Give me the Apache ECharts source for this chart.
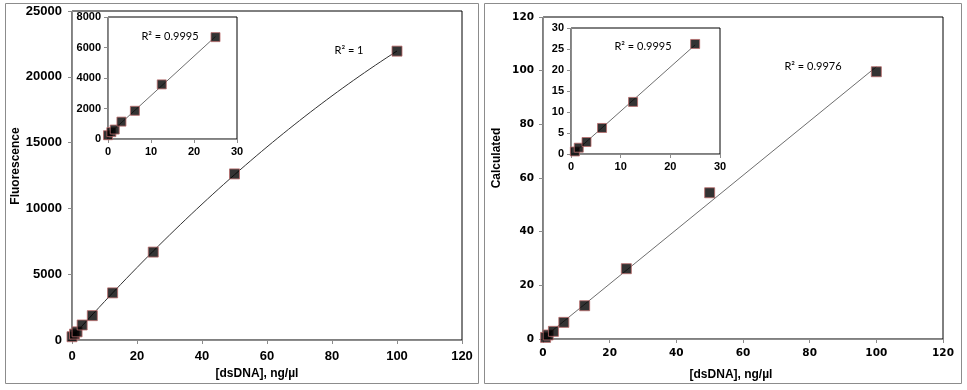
<!DOCTYPE html>
<html>
<head>
<meta charset="utf-8">
<script src="https://cdn.jsdelivr.net/npm/echarts@6/dist/echarts.min.js"></script>
<style>
html,body{margin:0;padding:0;background:#fff;}
#chart{width:967px;height:390px;}
</style>
</head>
<body>
<div id="chart"></div>
<script>
// ---- Data ----
const concentrations = [0, 0.78, 1.56, 3.125, 6.25, 12.5, 25, 50, 100];        // ng/µl (left panel)
const fluorescence   = [250, 450, 620, 1140, 1850, 3580, 6680, 12620, 21950];
const calcConc       = [0.78, 1.56, 3.125, 6.25, 12.5, 25, 50, 100];           // ng/µl (right panel)
const calculated     = [0.6, 1.5, 2.85, 6.2, 12.4, 26.2, 54.5, 99.6];
const insetMaxX = 25;
const r2Labels = { leftMain: 'R² = 1', leftInset: 'R² = 0.9995', rightMain: 'R² = 0.9976', rightInset: 'R² = 0.9995' };
const xTitle = '[dsDNA], ng/µl';
const yTitleLeft = 'Fluorescence';
const yTitleRight = 'Calculated';

// ---- Trendline fits (least squares on the data above) ----
function linFit(xs, ys) {
  const n = xs.length; let sx=0, sy=0, sxx=0, sxy=0;
  for (let i=0;i<n;i++){ sx+=xs[i]; sy+=ys[i]; sxx+=xs[i]*xs[i]; sxy+=xs[i]*ys[i]; }
  const b = (n*sxy - sx*sy)/(n*sxx - sx*sx); const a = (sy - b*sx)/n;
  return x => a + b*x;
}
function quadFit(xs, ys) {
  const S = [0,0,0,0,0], T=[0,0,0];
  for (let i=0;i<xs.length;i++){ let p=1; for(let k=0;k<5;k++){ S[k]+=p; if(k<3) T[k]+=p*ys[i]; p*=xs[i]; } }
  const M = [[S[0],S[1],S[2],T[0]],[S[1],S[2],S[3],T[1]],[S[2],S[3],S[4],T[2]]];
  for (let c=0;c<3;c++){ for(let r=c+1;r<3;r++){ const f=M[r][c]/M[c][c]; for(let k=c;k<4;k++) M[r][k]-=f*M[c][k]; } }
  const co=[0,0,0];
  for (let r=2;r>=0;r--){ let s=M[r][3]; for(let k=r+1;k<3;k++) s-=M[r][k]*co[k]; co[r]=s/M[r][r]; }
  return x => co[0] + co[1]*x + co[2]*x*x;
}
function pairs(xs, ys, maxX) { const out=[]; xs.forEach((x,i)=>{ if(maxX===undefined || x<=maxX) out.push([x, ys[i]]); }); return out; }
function lineSamples(f, x0, x1, n) { const out=[]; for(let i=0;i<=n;i++){ const x=x0+(x1-x0)*i/n; out.push([x, f(x)]); } return out; }

const leftAll = pairs(concentrations, fluorescence);
const leftIn = pairs(concentrations, fluorescence, insetMaxX);
const rightAll = pairs(calcConc, calculated);
const rightIn = pairs(calcConc, calculated, insetMaxX);

const fLeftMain = quadFit(concentrations, fluorescence);
const fLeftIn = linFit(leftIn.map(p=>p[0]), leftIn.map(p=>p[1]));
const fRightMain = linFit(calcConc, calculated);
const fRightIn = linFit(rightIn.map(p=>p[0]), rightIn.map(p=>p[1]));

const xmin = a => Math.min(...a.map(p=>p[0])), xmax = a => Math.max(...a.map(p=>p[0]));

// ---- Styles ----
const gray = '#8c8c8c';
function axis(gridIndex, min, max, interval, font, z) {
  return {
    type: 'value', gridIndex, min, max, interval, z,
    axisLine: { show: true, lineStyle: { color: gray, width: 1 } },
    axisTick: { show: true, length: 4, lineStyle: { color: gray } },
    splitLine: { show: false },
    axisLabel: { color: '#000', fontFamily: font.family, fontWeight: 'bold', fontSize: font.size, margin: font.margin,
                 formatter: v => String(v) }
  };
}
const markerStyle = { color: '#000', borderColor: '#b86a6a', borderWidth: 1 };
function scatter(xi, yi, data, size, z) {
  return { type: 'scatter', xAxisIndex: xi, yAxisIndex: yi, data, symbol: 'rect', symbolSize: size, itemStyle: markerStyle, z, silent: true };
}
function trend(xi, yi, data, color, z) {
  return { type: 'line', xAxisIndex: xi, yAxisIndex: yi, data, showSymbol: false, symbol: 'none', lineStyle: { color, width: 1 }, z, silent: true };
}

const ARIAL = '"Liberation Sans", Arial, sans-serif';
const arialL = { family: ARIAL, size: 13, margin: 10 };
const arialI = { family: ARIAL, size: 11, margin: 7 };
const verdR  = { family: '"DejaVu Sans", Verdana, sans-serif', size: 10.5, margin: 9 };
const arialRI = { family: ARIAL, size: 11, margin: 7 };

const chart = echarts.init(document.getElementById('chart'), null, { renderer: 'canvas' });
const option = {
  backgroundColor: '#fff',
  animation: false,
  grid: [
    { left: 72, top: 11, width: 390, height: 329, show: true, borderColor: '#000', borderWidth: 1, backgroundColor: '#fff', z: 0 },
    { left: 108, top: 17, width: 129, height: 122, show: true, borderColor: '#000', borderWidth: 1, backgroundColor: '#fff', z: 5 },
    { left: 543, top: 17, width: 400, height: 322, show: true, borderColor: '#000', borderWidth: 1, backgroundColor: '#fff', z: 0 },
    { left: 571, top: 28, width: 149, height: 126, show: true, borderColor: '#000', borderWidth: 1, backgroundColor: '#fff', z: 5 }
  ],
  xAxis: [
    axis(0, 0, 120, 20, arialL, 1),
    axis(1, 0, 30, 10, arialI, 6),
    axis(2, 0, 120, 20, verdR, 1),
    axis(3, 0, 30, 10, arialRI, 6)
  ],
  yAxis: [
    axis(0, 0, 25000, 5000, arialL, 1),
    axis(1, 0, 8000, 2000, arialI, 6),
    axis(2, 0, 120, 20, verdR, 1),
    axis(3, 0, 30, 5, arialRI, 6)
  ],
  series: [
    trend(0, 0, lineSamples(fLeftMain, xmin(leftAll), xmax(leftAll), 60), '#333', 2),
    scatter(0, 0, leftAll, 10, 3),
    trend(1, 1, lineSamples(fLeftIn, xmin(leftIn), xmax(leftIn), 1), '#6e6e6e', 7),
    scatter(1, 1, leftIn, 9, 8),
    trend(2, 2, lineSamples(fRightMain, xmin(rightAll), xmax(rightAll), 1), '#6e6e6e', 2),
    scatter(2, 2, rightAll, 10, 3),
    trend(3, 3, lineSamples(fRightIn, xmin(rightIn), xmax(rightIn), 1), '#6e6e6e', 7),
    scatter(3, 3, rightIn, 9, 8)
  ],
  graphic: [
    { type: 'rect', shape: { x: 5.5, y: 3.5, width: 473, height: 380 }, style: { fill: 'none', stroke: gray, lineWidth: 1 }, z: -1, silent: true },
    { type: 'rect', shape: { x: 484.5, y: 3.5, width: 477, height: 380 }, style: { fill: 'none', stroke: gray, lineWidth: 1 }, z: -1, silent: true },
    { type: 'text', x: 16, y: 166, rotation: Math.PI/2, style: { text: yTitleLeft, font: 'bold 12px "Liberation Sans", Arial, sans-serif', fill: '#000', textAlign: 'center', textVerticalAlign: 'middle' }, z: 20 },
    { type: 'text', x: 497, y: 158, rotation: Math.PI/2, style: { text: yTitleRight, font: 'bold 12px "Liberation Sans", Arial, sans-serif', fill: '#000', textAlign: 'center', textVerticalAlign: 'middle' }, z: 20 },
    { type: 'text', x: 257, y: 374, style: { text: xTitle, font: 'bold 12px "Liberation Sans", Arial, sans-serif', fill: '#000', textAlign: 'center', textVerticalAlign: 'middle' }, z: 20 },
    { type: 'text', x: 731, y: 375, style: { text: xTitle, font: 'bold 12px "Liberation Sans", Arial, sans-serif', fill: '#000', textAlign: 'center', textVerticalAlign: 'middle' }, z: 20 },
    { type: 'text', x: 349, y: 50, style: { text: r2Labels.leftMain, font: '11px Lato', fill: '#000', textAlign: 'center', textVerticalAlign: 'middle' }, z: 20 },
    { type: 'text', x: 170, y: 36, style: { text: r2Labels.leftInset, font: '11px Lato', fill: '#000', textAlign: 'center', textVerticalAlign: 'middle' }, z: 20 },
    { type: 'text', x: 813, y: 66, style: { text: r2Labels.rightMain, font: '11px Lato', fill: '#000', textAlign: 'center', textVerticalAlign: 'middle' }, z: 20 },
    { type: 'text', x: 643, y: 46, style: { text: r2Labels.rightInset, font: '11px Lato', fill: '#000', textAlign: 'center', textVerticalAlign: 'middle' }, z: 20 }
  ]
};
chart.setOption(option);
</script>
</body>
</html>
